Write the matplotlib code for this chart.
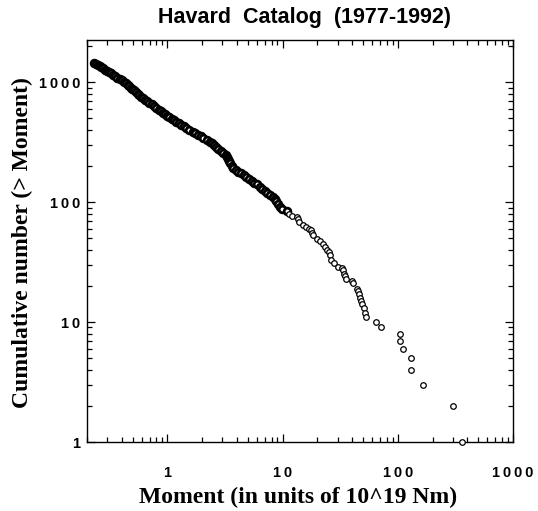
import matplotlib
matplotlib.use('Agg')
import matplotlib.pyplot as plt
from matplotlib.ticker import FixedLocator, LogLocator, NullFormatter

# cumulative distribution: moment (1e19 Nm) and count
moment = [0.232, 0.240, 0.248, 0.257, 0.267, 0.277, 0.287, 0.299, 0.311, 0.324,
          0.337, 0.352, 0.368, 0.385, 0.403, 0.423, 0.438,
          0.451, 0.465, 0.480, 0.496, 0.513, 0.531, 0.550, 0.566, 0.588, 0.610,
          0.637, 0.665, 0.695, 0.727, 0.762, 0.799, 0.839, 0.884, 0.920, 0.958,
          1.00, 1.04, 1.09, 1.14, 1.19,
          1.25, 1.32, 1.39, 1.46, 1.55, 1.66,
          1.75, 1.84, 1.94, 2.05, 2.19, 2.32,
          2.42, 2.52, 2.64, 2.76, 2.90, 3.06, 3.24,
          3.30, 3.37, 3.44, 3.52, 3.61, 3.70,
          3.90, 4.12, 4.32, 4.58, 4.84,
          5.10, 5.38, 5.69, 5.98, 6.31,
          6.65, 7.03, 7.36, 7.80, 8.24,
          8.51, 8.80, 9.12, 9.42, 9.96, 10.8,
          11.4, 12.1, 13.2, 13.6, 14.0, 15.0, 16.0, 16.9, 17.7, 18.0, 18.4,
          19.7, 21.0, 22.4, 23.2, 24.3, 25.3, 25.6, 26.4, 27.8, 30.3,
          33.0, 33.4, 33.9, 34.6, 35.8, 40.1, 40.4, 44.6, 45.0, 45.7,
          46.6, 48.3, 49.0, 50.5, 51.6, 52.4, 64.4, 72.0, 103.5, 103.5,
          110, 130, 130.6, 167, 299, 358]
count = [1450, 1420, 1390, 1360, 1330, 1300, 1270, 1240, 1210, 1180,
         1150, 1120, 1090, 1060, 1030, 1000, 975,
         950, 925, 900, 875, 850, 825, 800, 780, 755, 731,
         710, 690, 670, 650, 630, 610, 590, 570, 555, 540,
         525, 510, 495, 480, 466,
         453, 440, 427, 414, 400, 386,
         375, 364, 353, 342, 330, 318,
         308, 298, 288, 278, 268, 257, 246,
         237, 228, 219, 210, 200, 191,
         185, 179, 174, 168, 163,
         157, 151, 145, 140, 134,
         129, 124, 120, 115, 111,
         106, 101, 96, 91, 88, 84,
         80, 77, 75, 72, 68, 64, 62, 60, 58, 55, 53,
         49, 47, 45, 42, 40, 38, 36, 33, 31, 29,
         28, 27, 25, 24, 23, 22, 21, 19, 18, 17,
         16, 15, 14, 13, 12, 11, 10, 9, 8, 7,
         6, 5, 4, 3, 2, 1]

xticks = [1, 10, 100, 1000]
xticklabels = ['1', '1\u20090', '1\u20090\u20090', '1\u20090\u20090\u20090']
yticks = [1, 10, 100, 1000]
yticklabels = ['1', '1\u20090', '1\u20090\u20090', '1\u20090\u20090\u20090']

fig = plt.figure(figsize=(5.38, 5.11), dpi=100)
ax = fig.add_axes([87 / 538, 1 - 442 / 511, 426 / 538, 402 / 511])

# dense part: circles overlap into a solid band
n_dense = count.index(84) + 1
ax.plot(moment[:n_dense], count[:n_dense], 'o', mfc='white', mec='black', ms=4.8, mew=2.0,
        linestyle='none', zorder=3)
ax.plot(moment[n_dense:], count[n_dense:], 'o', mfc='white', mec='black', ms=4, mew=0.9,
        linestyle='none', clip_on=False, zorder=3)

ax.set_xscale('log')
ax.set_yscale('log')
ax.set_xlim(0.2, 1000)
ax.set_ylim(1, 2240)

ax.xaxis.set_major_locator(FixedLocator(xticks))
ax.yaxis.set_major_locator(FixedLocator(yticks))
ax.xaxis.set_minor_locator(LogLocator(base=10, subs=range(2, 10)))
ax.yaxis.set_minor_locator(LogLocator(base=10, subs=range(2, 10)))
ax.xaxis.set_minor_formatter(NullFormatter())
ax.yaxis.set_minor_formatter(NullFormatter())

tick_font = dict(family='Liberation Sans', weight='bold', size=10.5)
ax.set_xticklabels(xticklabels, fontdict=tick_font)
ax.set_yticklabels(yticklabels, fontdict=tick_font)

ax.tick_params(which='both', direction='in', top=True, right=True, width=0.9, colors='black')
ax.tick_params(which='major', length=6)
ax.tick_params(which='minor', length=3.5)
ax.tick_params(axis='x', which='major', pad=17)
ax.tick_params(axis='y', which='major', pad=5)
for s in ax.spines.values():
    s.set_linewidth(1.0)

fig.text(305 / 538, 1 - 17 / 511, 'Havard  Catalog  (1977-1992)', ha='center', va='center',
         family='Liberation Sans', weight='bold', fontsize=15.5)
fig.text(298 / 538, 1 - 497 / 511, 'Moment (in units of 10^19 Nm)', ha='center', va='center',
         family='Liberation Serif', weight='bold', fontsize=17)
fig.text(22 / 538, 1 - 243 / 511, 'Cumulative number (> Moment)', ha='center', va='center',
         rotation=90, family='Liberation Serif', weight='bold', fontsize=17)

fig.savefig('out.png', dpi=100)
